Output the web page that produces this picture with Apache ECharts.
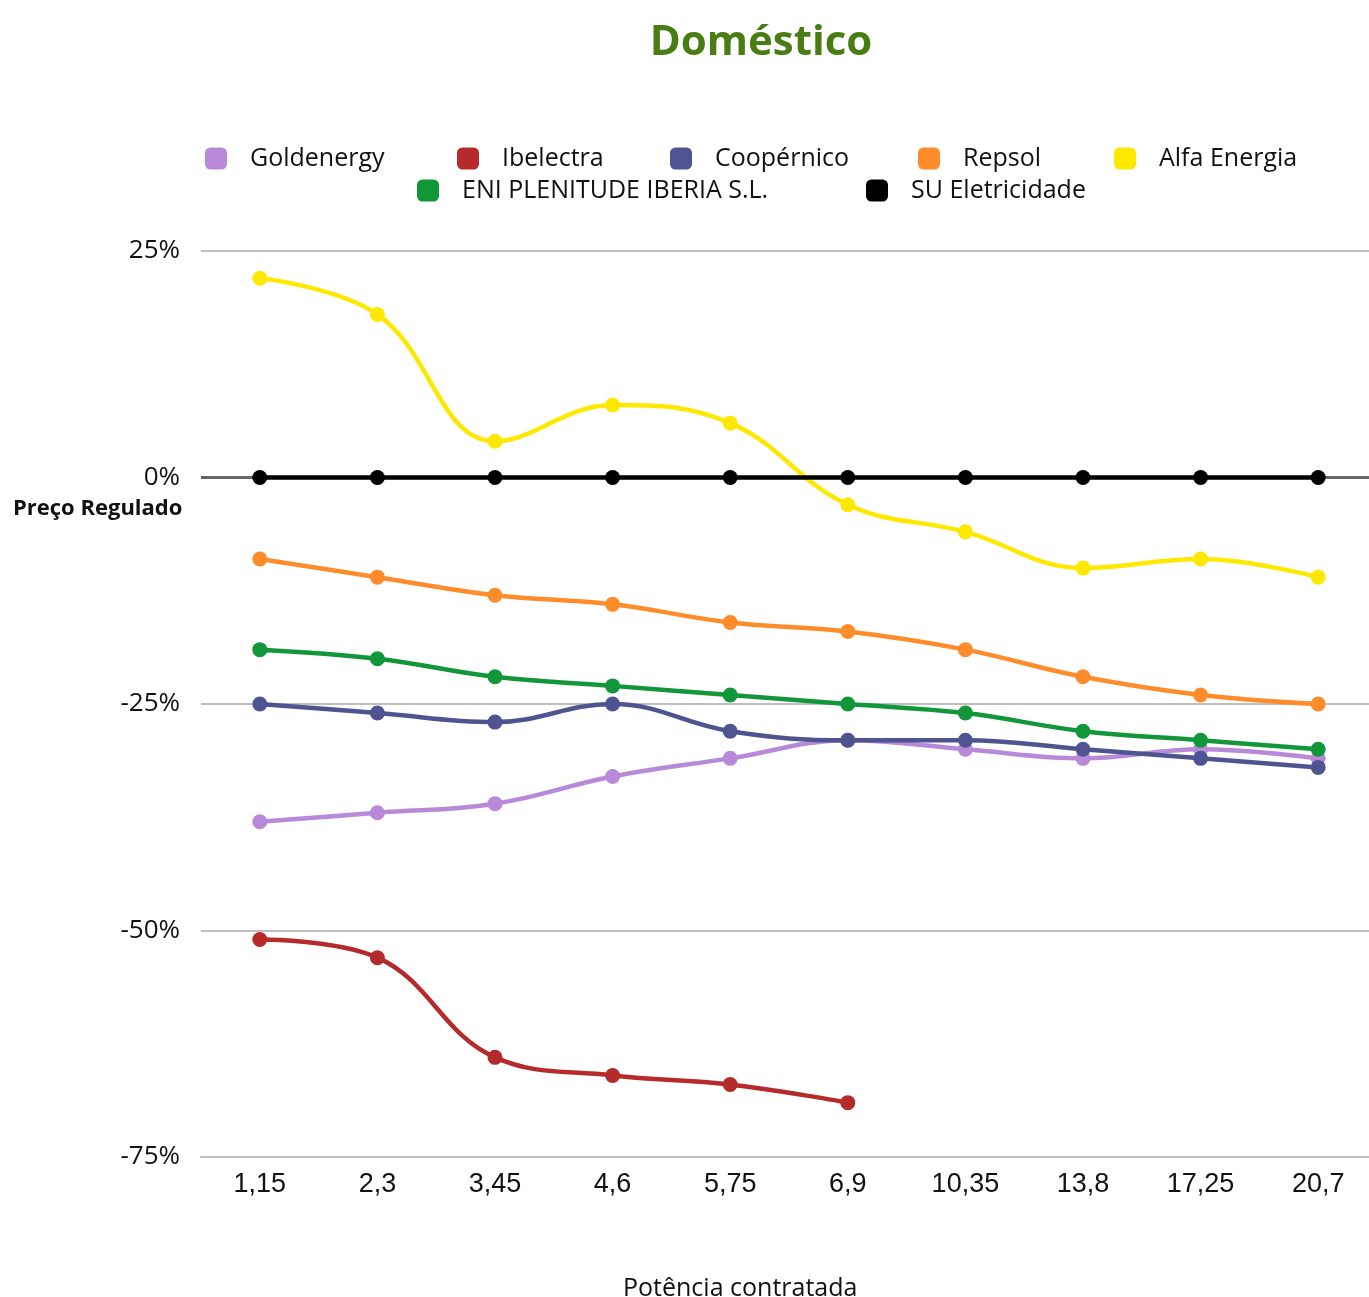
<!DOCTYPE html>
<html>
<head>
<meta charset="utf-8">
<script src="https://cdn.jsdelivr.net/npm/echarts@6/dist/echarts.min.js"></script>
<style>
html,body{margin:0;padding:0;background:#fff;}
#chart{width:1369px;height:1297px;}
</style>
</head>
<body>
<div id="chart"></div>
<script>
const categories = ['1,15','2,3','3,45','4,6','5,75','6,9','10,35','13,8','17,25','20,7'];
const seriesNames = ['Goldenergy','Ibelectra','Coopérnico','Repsol','Alfa Energia','ENI PLENITUDE IBERIA S.L.','SU Eletricidade'];
const goldenergy = [-38,-37,-36,-33,-31,-29,-30,-31,-30,-31];
const ibelectra  = [-51,-53,-64,-66,-67,-69,null,null,null,null];
const coopernico = [-25,-26,-27,-25,-28,-29,-29,-30,-31,-32];
const repsol     = [-9,-11,-13,-14,-16,-17,-19,-22,-24,-25];
const alfa       = [22,18,4,8,6,-3,-6,-10,-9,-11];
const eni        = [-19,-20,-22,-23,-24,-25,-26,-28,-29,-30];
const su         = [0,0,0,0,0,0,0,0,0,0];
const yTicks = [-75,-50,-25,0,25];

const colors = ['#b889d9','#b52a2a','#4f5490','#ff8c2a','#ffe800','#12963a','#000000'];
const dataArr = [goldenergy, ibelectra, coopernico, repsol, alfa, eni, su];

const FONT = '"Open Sans", "Noto Sans", sans-serif';
const legendPos = [
  [205,146],[457,146],[670,146],[918,146],[1114,146],
  [417,178],[866,178]
];

const chart = echarts.init(document.getElementById('chart'));
const option = {
  animation: false,
  backgroundColor: '#fff',
  title: {
    text: 'Doméstico',
    left: 756, top: 17, textAlign: 'center',
    textStyle: {fontFamily: FONT, fontSize: 42, fontWeight: 'bold', color: '#4a7c14'}
  },
  legend: seriesNames.map((n, i) => ({
    data: [n], left: legendPos[i][0], top: legendPos[i][1],
    itemWidth: 22, itemHeight: 22, itemGap: 0, icon: 'roundRect',
    textStyle: {fontFamily: FONT, fontSize: 25, color: '#111', padding: [0,0,0,18]},
    selectedMode: false, padding: 0
  })),
  grid: {left: 201, width: 1176, top: 251, bottom: 140, containLabel: false, outerBoundsMode: 'none'},
  xAxis: {
    type: 'category', data: categories, boundaryGap: true,
    axisLine: {show: true, onZero: false, lineStyle: {color: '#bfbfbf', width: 2}},
    axisTick: {show: false},
    axisLabel: {fontFamily: '"Liberation Sans", sans-serif', fontSize: 27, color: '#111', margin: 14}
  },
  yAxis: {
    type: 'value', min: yTicks[0], max: yTicks[yTicks.length-1], interval: 25,
    axisLine: {show: false}, axisTick: {show: false},
    axisLabel: {formatter: '{value}%', fontFamily: FONT, fontSize: 26, color: '#111', margin: 21},
    splitLine: {lineStyle: {color: '#bfbfbf', width: 2}}
  },
  graphic: [
    {type: 'text', left: 13, top: 498, style: {text: 'Preço Regulado', fontFamily: FONT, fontSize: 22, fontWeight: 'bold', fill: '#111'}},
    {type: 'text', left: 623, top: 1276, style: {text: 'Potência contratada', fontFamily: FONT, fontSize: 25, fill: '#111'}}
  ],
  series: seriesNames.map((n, i) => {
    const s = {
      name: n, type: 'line', data: dataArr[i], smooth: 0.4,
      symbol: 'circle', symbolSize: 15, connectNulls: false,
      lineStyle: {width: 4.5, color: colors[i]},
      itemStyle: {color: colors[i]},
      z: 2 + i
    };
    if (i === 6) {
      s.markLine = {
        silent: true, symbol: 'none', label: {show: false},
        lineStyle: {color: '#666', width: 3, type: 'solid'},
        data: [{yAxis: 0}], z: 1
      };
      s.smooth = false;
    }
    return s;
  })
};
chart.setOption(option);
</script>
</body>
</html>
